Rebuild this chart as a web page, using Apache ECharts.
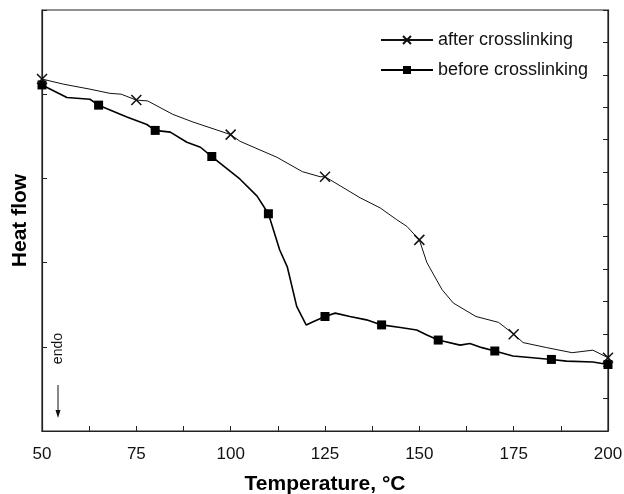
<!DOCTYPE html>
<html><head><meta charset="utf-8">
<script src="https://cdn.jsdelivr.net/npm/echarts@6/dist/echarts.min.js"></script>
<style>html,body{margin:0;padding:0;background:#fff}#c{width:624px;height:494px}</style>
</head><body><div id="c"></div>
<script>
var xTicks = [50, 75, 100, 125, 150, 175, 200];
var afterT = [50, 55.6, 62.7, 68, 71, 75, 78, 84.7, 90, 94, 100, 102.5, 112.3, 119, 123.7, 125, 134.3, 139.6, 144, 146.7, 150, 152, 156, 159, 165, 171, 175, 177.5, 183.8, 190.5, 196, 200];
var afterV = [4.18, 4.12, 4.06, 4.01, 4.00, 3.93, 3.92, 3.76, 3.67, 3.61, 3.52, 3.44, 3.25, 3.08, 3.02, 3.02, 2.77, 2.65, 2.51, 2.43, 2.27, 2.00, 1.68, 1.52, 1.36, 1.29, 1.15, 1.05, 0.99, 0.93, 0.96, 0.87];
var afterMarks = [50, 75, 100, 125, 150, 175, 200];
var beforeT = [50, 56.6, 62.7, 65, 72.5, 77.8, 80, 84, 88.4, 92, 95, 102.5, 107, 110, 113, 115, 117.5, 120, 122, 125, 127.7, 131.6, 136, 140, 145, 149.3, 152, 155, 160.8, 163.4, 166.6, 170, 174.8, 180, 185, 189, 196, 200];
var beforeV = [4.11, 3.96, 3.94, 3.87, 3.73, 3.64, 3.57, 3.55, 3.43, 3.37, 3.26, 2.99, 2.79, 2.58, 2.15, 1.95, 1.48, 1.26, 1.30, 1.36, 1.40, 1.36, 1.32, 1.26, 1.23, 1.20, 1.14, 1.08, 1.02, 1.04, 0.99, 0.95, 0.89, 0.87, 0.85, 0.83, 0.82, 0.79];
var beforeMarks = [50, 65, 80, 95, 110, 125, 140, 155, 170, 185, 200];

function build(ts, vs, marks) {
  return ts.map(function (t, i) {
    var item = { value: [t, vs[i]] };
    if (marks.indexOf(t) < 0) item.symbol = 'none';
    return item;
  });
}

var FONT = 'Liberation Sans, Arial, sans-serif';
var axisCol = '#222';
var chart = echarts.init(document.getElementById('c'));
chart.setOption({
  animation: false,
  textStyle: { fontFamily: FONT },
  grid: { left: 42, right: 16, top: 10, bottom: 63, show: true, borderColor: axisCol, borderWidth: 1.2, containLabel: false, outerBoundsMode: 'none' },
  legend: {
    orient: 'vertical', left: 375, top: 26, itemWidth: 52, itemHeight: 10, itemGap: 12,
    textStyle: { fontSize: 18, color: '#111', fontFamily: FONT },
    data: ['after crosslinking', 'before crosslinking']
  },
  xAxis: {
    type: 'value', min: 50, max: 200, interval: 25,
    name: 'Temperature, °C', nameLocation: 'middle', nameGap: 43,
    nameTextStyle: { fontSize: 21, fontWeight: 'bold', color: '#000', fontFamily: FONT },
    axisLine: { lineStyle: { color: axisCol, width: 1.2 } },
    axisTick: { inside: true, length: 5, lineStyle: { color: axisCol } },
    minorTick: { show: true, splitNumber: 2, length: 5, lineStyle: { color: axisCol } },
    axisLabel: { fontSize: 17, color: '#111', margin: 15, fontFamily: FONT, formatter: function (v) { return xTicks.indexOf(v) >= 0 ? String(v) : ''; } },
    splitLine: { show: false }
  },
  yAxis: [{
    type: 'value', min: 0, max: 5, interval: 1, position: 'left',
    name: 'Heat flow', nameLocation: 'middle', nameGap: 11,
    nameTextStyle: { fontSize: 21, fontWeight: 'bold', color: '#000', fontFamily: FONT },
    axisLine: { show: true, lineStyle: { color: axisCol, width: 1.2 } },
    axisTick: { show: true, inside: true, length: 5, lineStyle: { color: axisCol } },
    axisLabel: { show: false },
    splitLine: { show: false }
  }, {
    type: 'value', min: 0, max: 13, interval: 1, position: 'right',
    axisLine: { show: true, lineStyle: { color: axisCol, width: 1.2 } },
    axisTick: { show: true, inside: true, length: 5, lineStyle: { color: axisCol } },
    axisLabel: { show: false },
    splitLine: { show: false }
  }],
  series: [{
    name: 'after crosslinking', type: 'line', yAxisIndex: 0,
    data: build(afterT, afterV, afterMarks),
    symbol: 'path://M0,0L10,10M10,0L0,10', symbolSize: 10, showAllSymbol: true,
    lineStyle: { color: '#111', width: 1 },
    itemStyle: { color: '#111', borderColor: '#111', borderWidth: 1.5 },
    z: 3
  }, {
    name: 'before crosslinking', type: 'line', yAxisIndex: 0,
    data: build(beforeT, beforeV, beforeMarks),
    symbol: 'rect', symbolSize: 9, showAllSymbol: true,
    lineStyle: { color: '#000', width: 1.6 },
    itemStyle: { color: '#000', borderWidth: 0 },
    z: 2
  }],
  graphic: [{
    type: 'text', left: 51, top: 333, rotation: Math.PI / 2, originX: 0, originY: 0,
    style: { text: 'endo', fontSize: 14, fill: '#111', fontFamily: FONT }
  }, {
    type: 'line', shape: { x1: 58, y1: 385, x2: 58, y2: 414 }, style: { stroke: '#111', lineWidth: 1 }
  }, {
    type: 'polygon', shape: { points: [[55.5, 410], [60.5, 410], [58, 418]] }, style: { fill: '#111' }
  }]
});
</script></body></html>
